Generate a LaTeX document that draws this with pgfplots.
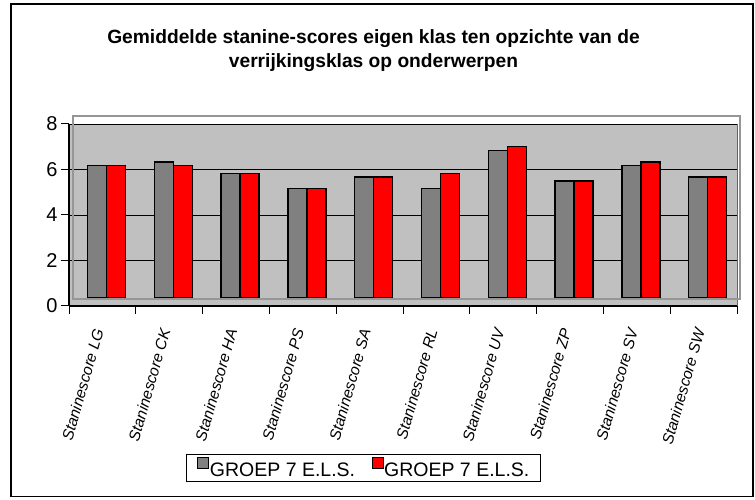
\documentclass[border=0pt]{standalone}
\usepackage{pgfplots}
\pgfplotsset{compat=1.18}
\usepackage{fontspec}
\setmainfont{Liberation Sans}
\definecolor{wall}{RGB}{192,192,192}
\definecolor{bargray}{RGB}{128,128,128}
\definecolor{wallline}{RGB}{150,150,150}
\begin{document}
\begin{tikzpicture}[x=1bp,y=1bp]
\useasboundingbox (0,0) rectangle (755,500);
\draw[line width=1.2bp] (11,3.5) rectangle (753,496);
\node[font=\fontsize{19.2bp}{22bp}\selectfont\bfseries, anchor=base] at (373.5,456) {Gemiddelde stanine-scores eigen klas ten opzichte van de};
\node[font=\fontsize{19.2bp}{22bp}\selectfont\bfseries, anchor=base] at (373.5,432) {verrijkingsklas op onderwerpen};

\begin{axis}[
  at={(69bp,194bp)}, anchor=south west,
  width=668bp, height=182bp, scale only axis,
  xmin=-0.5, xmax=9.5, ymin=0, ymax=8,
  axis x line*=bottom, axis y line*=left,
  axis line style={line width=1.2bp, black},
  axis background/.style={fill=wall, draw=black!60, line width=0.8bp},
  ytick={0,2,4,6,8},
  ymajorgrids, major grid style={black, line width=0.8bp},
  tick align=outside, major tick length=8bp,
  tick style={black, line width=1bp},
  xtick={-0.5,0.5,...,9.5}, xticklabels={},
  extra x ticks={0,1,2,3,4,5,6,7,8,9},
  extra x tick labels={Staninescore LG,Staninescore CK,Staninescore HA,Staninescore PS,Staninescore SA,Staninescore RL,Staninescore UV,Staninescore ZP,Staninescore SV,Staninescore SW},
  extra x tick style={major tick length=0pt, grid=none},
  xticklabel style={font=\fontsize{15.5bp}{17bp}\selectfont\itshape, inner sep=0pt, xshift=-3.8bp, yshift=-23bp, rotate=74, anchor=east},
  yticklabel style={font=\fontsize{20bp}{22bp}\selectfont},
  /pgf/number format/assume math mode=true,
]
\end{axis}

\draw[wallline, line width=1.5bp] (73,384) rectangle (740,201);

\begin{axis}[
  at={(73bp,202bp)}, anchor=south west,
  width=668bp, height=174bp, scale only axis,
  xmin=-0.5, xmax=9.5, ymin=0.35165, ymax=8,
  hide axis,
  ybar=0pt, bar width=19bp,
  every axis plot post/.append style={legend image code/.code={\draw[#1, line width=1bp] (0bp,2bp) rectangle (11bp,13bp);}},
  legend columns=2,
  legend style={at={(0.1692,-0.8966)}, anchor=north west, draw=black, line width=0.8bp,
    font=\fontsize{19.5bp}{21bp}\selectfont, inner xsep=11bp, inner ysep=2.5bp,
    nodes={inner sep=0.5bp},
    /tikz/every even column/.append style={column sep=16bp}},
]
\addplot[fill=bargray, draw=black, line width=1.4bp] coordinates {(0,6.17) (1,6.33) (2,5.83) (3,5.17) (4,5.67) (5,5.17) (6,6.83) (7,5.5) (8,6.17) (9,5.67)};
\addlegendentry{GROEP 7 E.L.S.}
\addplot[fill=red, draw=black, line width=1.4bp] coordinates {(0,6.17) (1,6.17) (2,5.83) (3,5.17) (4,5.67) (5,5.83) (6,7.0) (7,5.5) (8,6.33) (9,5.67)};
\addlegendentry{GROEP 7 E.L.S.}
\end{axis}
\end{tikzpicture}
\end{document}
